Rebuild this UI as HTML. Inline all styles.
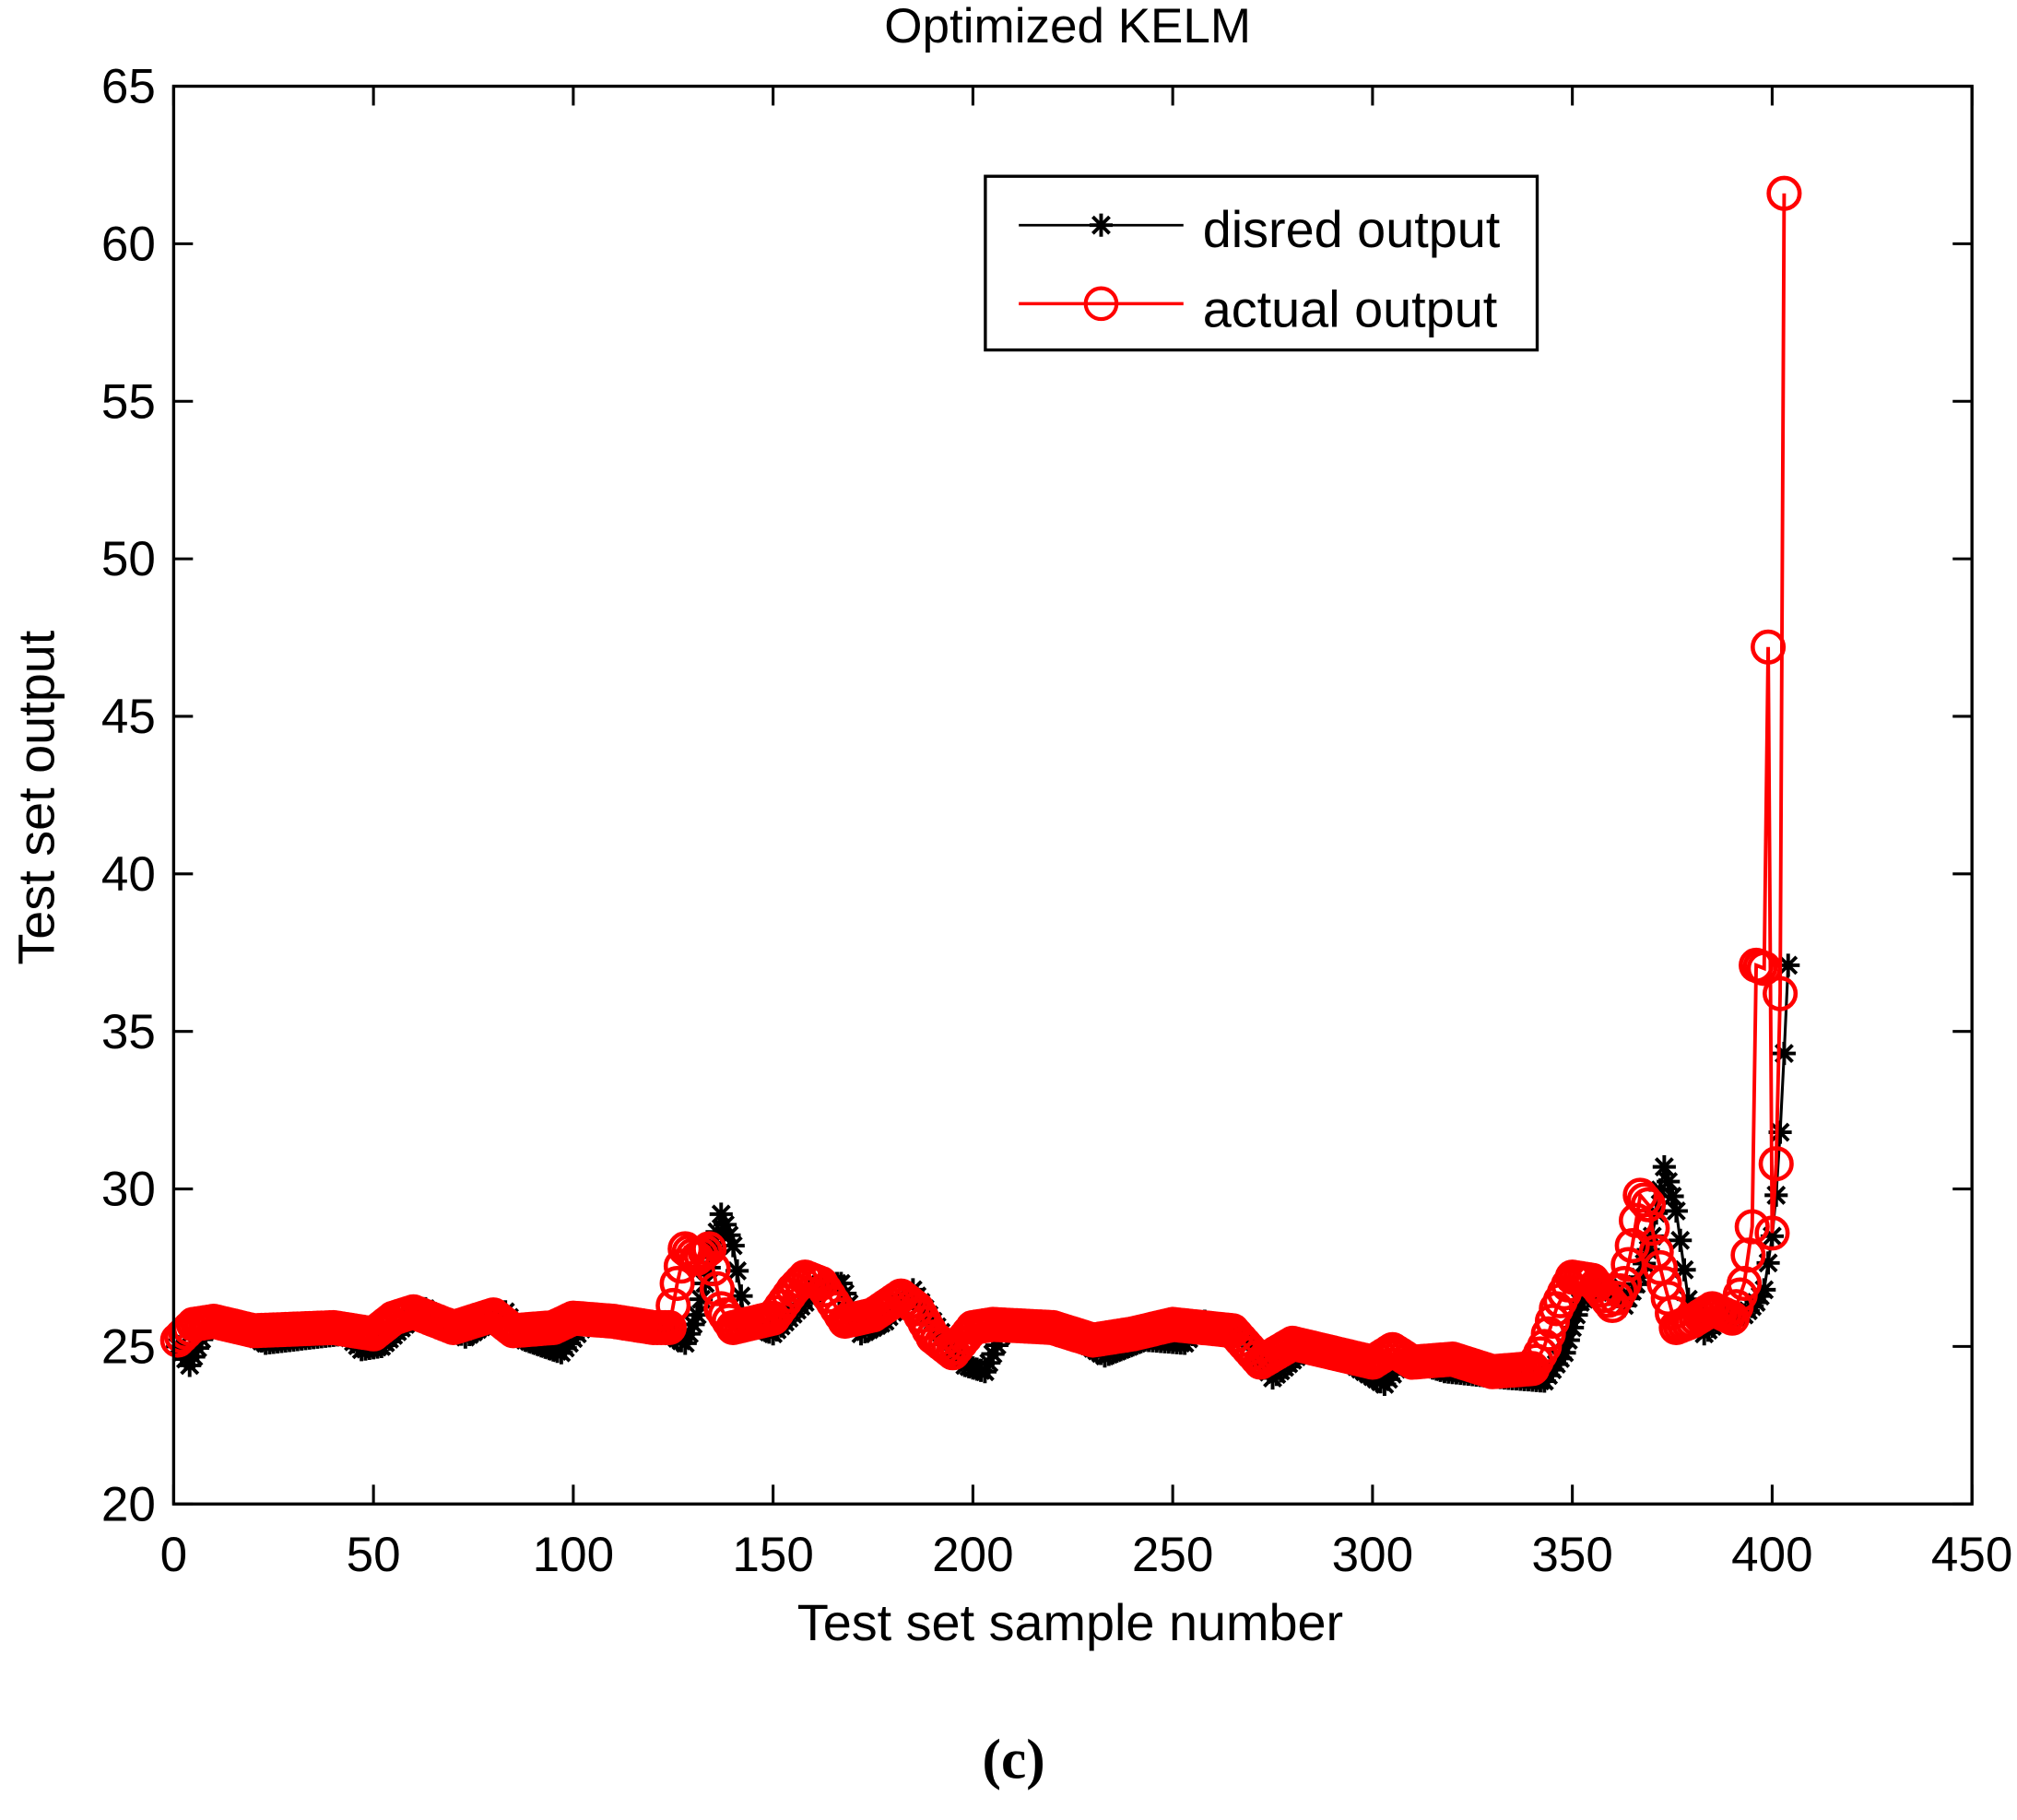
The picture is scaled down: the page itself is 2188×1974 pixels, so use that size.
<!DOCTYPE html>
<html><head><meta charset="utf-8"><style>html,body{margin:0;padding:0;background:#fff}svg{display:block}</style></head>
<body>
<svg id="s" xmlns="http://www.w3.org/2000/svg" width="2188" height="1974" viewBox="0 0 1568 1414.6" font-family="Liberation Sans, sans-serif">
<rect width="1568" height="1414.6" fill="#fff"/>
<text x="830" y="33" font-size="38" text-anchor="middle">Optimized KELM</text>
<g id="ticks" font-size="38" fill="#000"></g>
<g id="data"></g>
<rect x="135" y="67" width="1398" height="1102" fill="none" stroke="#000" stroke-width="2.4"/>
<text x="832" y="1275" font-size="40" text-anchor="middle">Test set sample number</text>
<text transform="translate(42,620) rotate(-90)" font-size="40" text-anchor="middle">Test set output</text>
<text x="788" y="1382" font-size="44" font-weight="bold" font-family="Liberation Serif, serif" text-anchor="middle">(c)</text>
<rect x="766" y="137" width="429" height="135" fill="#fff" stroke="#000" stroke-width="2.4"/>
<line x1="792" y1="175" x2="920" y2="175" stroke="#000" stroke-width="2"/>
<g id="legstar"></g>
<line x1="792" y1="236" x2="920" y2="236" stroke="#f00" stroke-width="2.5"/>
<circle cx="856" cy="236" r="12" fill="none" stroke="#f00" stroke-width="3"/>
<text x="935" y="192" font-size="40">disred output</text>
<text x="935" y="254" font-size="40">actual output</text>
</svg>
<script>
var X=function(v){return 135+v*1398/450},Y=function(v){return 1169-(v-20)*1102/45};
var t=document.getElementById('ticks'),h='';
for(var i=0;i<=450;i+=50){var x=X(i);h+='<line x1="'+x+'" y1="1169" x2="'+x+'" y2="1154" stroke="#000" stroke-width="2.2"/><line x1="'+x+'" y1="67" x2="'+x+'" y2="82" stroke="#000" stroke-width="2.2"/><text x="'+x+'" y="1221" text-anchor="middle">'+i+'</text>';}
for(var v=20;v<=65;v+=5){var y=Y(v);h+='<line x1="135" y1="'+y+'" x2="150" y2="'+y+'" stroke="#000" stroke-width="2.2"/><line x1="1533" y1="'+y+'" x2="1518" y2="'+y+'" stroke="#000" stroke-width="2.2"/><text x="121" y="'+(y+13)+'" text-anchor="end">'+v+'</text>';}
t.innerHTML=h;
var R=[[1,25.2],[5,25.7],[10,25.8],[20,25.5],[40,25.6],[50,25.4],[55,25.9],[60,26.1],[70,25.6],[80,26.0],[85,25.5],[95,25.6],[100,25.9],[110,25.8],[120,25.6],[124,25.6],[126,27],[128,28.1],[131,27.8],[134,28.1],[137,26.2],[140,25.6],[150,25.9],[155,26.8],[158,27.2],[162,27.0],[168,25.8],[175,26.0],[182,26.6],[186,26.2],[190,25.3],[195,24.8],[200,25.6],[205,25.7],[220,25.6],[230,25.2],[240,25.4],[250,25.7],[265,25.5],[272,24.5],[280,25.1],[290,24.8],[300,24.5],[305,24.9],[310,24.5],[320,24.6],[330,24.2],[340,24.3],[343,25.0],[346,26.2],[350,27.2],[355,27.1],[360,26.3],[363,27.0],[365,28.2],[367,29.8],[369,29.5],[371,28.0],[373,27],[376,25.6],[380,25.8],[385,26.2],[390,25.9],[393,27.0],[395,28.8],[396,37.1],[398,37.0],[399,47.2],[400,28.6],[401,30.8],[402,36.2],[403,61.6]];
var B=[[1,25],[4,24.4],[8,25.5],[12,25.9],[23,25.1],[43,25.4],[47,24.9],[52,25.0],[58,25.7],[63,26.2],[73,25.3],[83,26.1],[88,25.2],[97,24.8],[103,25.7],[113,25.9],[123,25.5],[128,25.1],[131,26],[134,27.5],[137,29.2],[140,28.2],[143,25.8],[150,25.4],[158,26.4],[162,27.0],[167,27.0],[172,25.4],[178,25.8],[185,26.8],[190,25.8],[198,24.4],[203,24.2],[208,25.6],[223,25.5],[233,24.7],[243,25.2],[253,25.1],[258,25.8],[268,25.3],[275,24.0],[283,24.9],[293,24.6],[303,23.8],[308,24.6],[318,24.2],[333,24.0],[343,23.9],[348,24.8],[352,26.4],[358,27.0],[363,26.3],[367,27.2],[370,28.5],[373,30.7],[376,29.3],[379,26.5],[383,25.4],[388,26.0],[393,26.0],[396,26.4],[398,26.8],[400,28.5],[401,29.8],[402,31.8],[403,34.3],[404,37.1]];
function interp(K){var o=[],n=K[K.length-1][0];for(var i=1;i<=n;i++){for(var k=0;k<K.length-1;k++){if(i>=K[k][0]&&i<=K[k+1][0]){var f=(i-K[k][0])/((K[k+1][0]-K[k][0])||1);o.push([i,K[k][1]+(K[k+1][1]-K[k][1])*f]);break;}}}return o;}
var rb=interp(B),rr=interp(R);
function star(x,y){var a=9;return '<path d="M'+(x-a)+' '+y+'H'+(x+a)+'M'+x+' '+(y-a)+'V'+(y+a)+'M'+(x-6.5)+' '+(y-6.5)+'L'+(x+6.5)+' '+(y+6.5)+'M'+(x-6.5)+' '+(y+6.5)+'L'+(x+6.5)+' '+(y-6.5)+'" stroke="#000" stroke-width="2.8" fill="none"/>';}
var d='<polyline fill="none" stroke="#000" stroke-width="2.2" points="'+rb.map(function(p){return X(p[0])+','+Y(p[1])}).join(' ')+'"/>';
rb.forEach(function(p){d+=star(X(p[0]),Y(p[1]));});
d+='<polyline fill="none" stroke="#f00" stroke-width="2.8" points="'+rr.map(function(p){return X(p[0])+','+Y(p[1])}).join(' ')+'"/>';
rr.forEach(function(p){d+='<circle cx="'+X(p[0])+'" cy="'+Y(p[1])+'" r="12" fill="none" stroke="#f00" stroke-width="3.3"/>';});
document.getElementById('data').innerHTML=d;
document.getElementById('legstar').innerHTML=star(856,175);
</script>
</body></html>
